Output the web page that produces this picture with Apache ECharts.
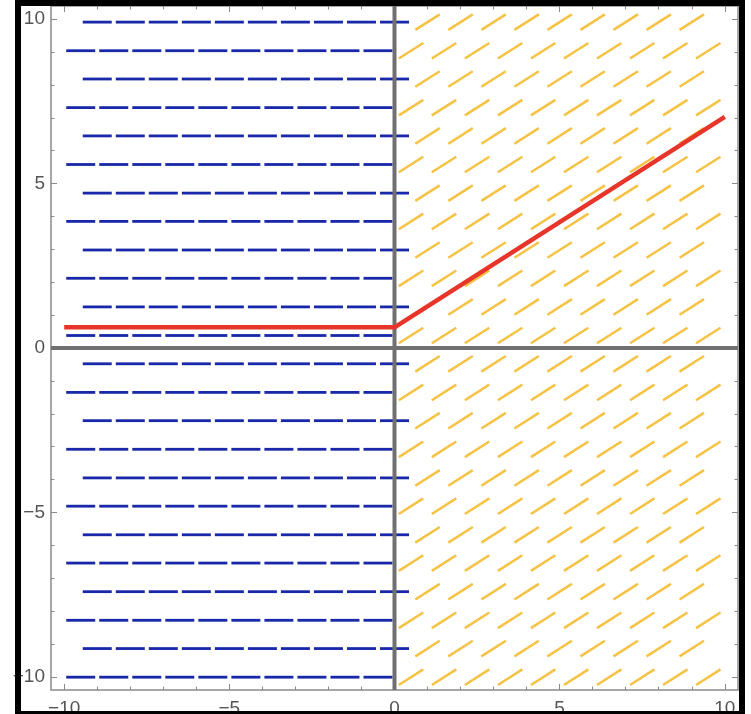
<!DOCTYPE html>
<html>
<head>
<meta charset="utf-8">
<script src="https://cdn.jsdelivr.net/npm/echarts@6/dist/echarts.min.js"></script>
<style>
  html, body { margin: 0; padding: 0; background: #ffffff; }
  #chart { width: 751px; height: 714px; }
</style>
</head>
<body>
<div id="chart"></div>
<script>
// ---- data ----
const rowY = [9.91, 9.04, 8.18, 7.31, 6.45, 5.58, 4.71, 3.85, 2.98, 2.12, 1.25, 0.38,
              -0.48, -1.35, -2.21, -3.08, -3.95, -4.81, -5.68, -6.54, -7.41, -8.28, -9.14, -10.01];
const evenRowX = [-9, -8, -7, -6, -5, -4, -3, -2, -1, 0, 1, 2, 3, 4, 5, 6, 7, 8, 9];
const oddRowX = [-9.5, -8.5, -7.5, -6.5, -5.5, -4.5, -3.5, -2.5, -1.5, -0.5,
                 0.5, 1.5, 2.5, 3.5, 4.5, 5.5, 6.5, 7.5, 8.5, 9.5];
const slopeLeft = 0;      // slope of field for x <= 0
const slopeRight = 0.64;  // slope of field for x > 0
const solutionX = [-10, 0, 10];
const solutionY = [0.63, 0.63, 7.03];
const majorTicks = [-10, -5, 0, 5, 10];
const minorTicks = [-10, -9, -8, -7, -6, -5, -4, -3, -2, -1, 0, 1, 2, 3, 4, 5, 6, 7, 8, 9, 10];
const axisRange = [-10.4, 10.4];

// ---- build series data ----
const fieldData = [];
rowY.forEach((y, k) => {
  const xs = (k % 2 === 0) ? evenRowX : oddRowX;
  xs.forEach(x => {
    const right = x > 0;
    fieldData.push([x, y, right ? slopeRight : slopeLeft, right ? 1 : 0]);
  });
});
const solutionData = solutionX.map((x, i) => [x, solutionY[i]]);

const fieldColors = ['#1828a8', '#f6c243'];
const fieldWidths = [2.8, 2.5];
const HALF = 14.5;

function renderDash(params, api) {
  const cx = api.value(0), cy = api.value(1), m = api.value(2), ci = api.value(3);
  const c = api.coord([cx, cy]);
  const p = api.coord([cx + 1, cy + m]);
  let dx = p[0] - c[0], dy = p[1] - c[1];
  const len = Math.sqrt(dx * dx + dy * dy);
  dx /= len; dy /= len;
  return {
    type: 'line',
    shape: { x1: c[0] - dx * HALF, y1: c[1] - dy * HALF, x2: c[0] + dx * HALF, y2: c[1] + dy * HALF },
    style: { stroke: fieldColors[ci], lineWidth: fieldWidths[ci], lineCap: 'butt' }
  };
}

const FONT = '"Liberation Sans", Arial, sans-serif';
const labelFmt = v => String(v).replace('-', '\u2212');
const tickColor = '#8a8a8a';

function xAx(pos, ticks, len, showLabel) {
  return {
    type: 'value', position: pos, min: axisRange[0], max: axisRange[1],
    axisLine: { show: false, onZero: false },
    splitLine: { show: false },
    axisTick: { show: true, inside: true, length: len, customValues: ticks, lineStyle: { color: tickColor, width: 1 } },
    axisLabel: showLabel ? { show: true, customValues: ticks, formatter: labelFmt, color: '#555', fontSize: 19, fontFamily: FONT, margin: 9, hideOverlap: false } : { show: false }
  };
}
function yAx(pos, ticks, len, showLabel) {
  return {
    type: 'value', position: pos, min: axisRange[0], max: axisRange[1],
    axisLine: { show: false, onZero: false },
    splitLine: { show: false },
    axisTick: { show: true, inside: true, length: len, customValues: ticks, lineStyle: { color: tickColor, width: 1 } },
    axisLabel: showLabel ? { show: true, customValues: ticks, formatter: labelFmt, color: '#555', fontSize: 19, fontFamily: FONT, margin: 6 } : { show: false }
  };
}

const chart = echarts.init(document.getElementById('chart'), null, { renderer: 'canvas' });
chart.setOption({
  animation: false,
  backgroundColor: '#ffffff',
  grid: {
    left: 51, right: 13, top: 6, bottom: 24, show: true,
    borderColor: '#8a8a8a', borderWidth: 1.5, backgroundColor: '#ffffff',
    containLabel: false, outerBoundsMode: 'none'
  },
  xAxis: [
    xAx('bottom', majorTicks, 6, true),
    xAx('bottom', minorTicks, 3.5, false),
    xAx('top', majorTicks, 6, false),
    xAx('top', minorTicks, 3.5, false)
  ],
  yAxis: [
    yAx('left', majorTicks, 6, true),
    yAx('left', minorTicks, 3.5, false),
    yAx('right', majorTicks, 6, false),
    yAx('right', minorTicks, 3.5, false)
  ],
  series: [
    {
      type: 'custom', xAxisIndex: 0, yAxisIndex: 0, z: 2,
      renderItem: renderDash, data: fieldData, silent: true
    },
    {
      type: 'line', xAxisIndex: 0, yAxisIndex: 0, z: 3, symbol: 'none', silent: true,
      data: [[0, axisRange[0]], [0, axisRange[1]]],
      lineStyle: { color: '#707070', width: 4 }
    },
    {
      type: 'line', xAxisIndex: 0, yAxisIndex: 0, z: 3, symbol: 'none', silent: true,
      data: [[axisRange[0], 0], [axisRange[1], 0]],
      lineStyle: { color: '#707070', width: 4 }
    },
    {
      type: 'line', xAxisIndex: 0, yAxisIndex: 0, z: 4, symbol: 'none', silent: true,
      data: solutionData,
      lineStyle: { color: '#e8352a', width: 4.5 }
    }
  ],
  graphic: [
    {
      type: 'rect', z: 100, silent: true,
      shape: { x: 18, y: 3, width: 724, height: 711 },
      style: { fill: 'none', stroke: '#000000', lineWidth: 6 }
    }
  ]
});
</script>
</body>
</html>
